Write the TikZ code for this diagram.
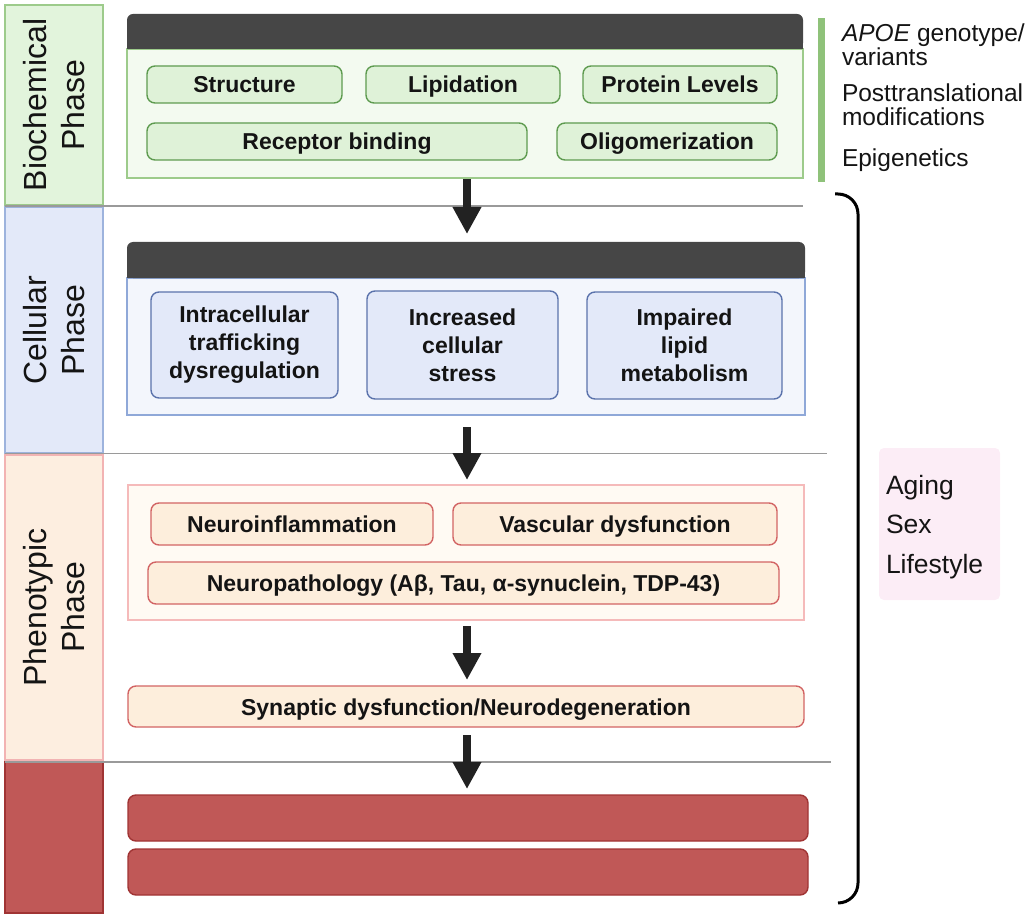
\documentclass[tikz,border=0pt]{standalone}
\usepackage{fontspec}
\setmainfont{Liberation Sans}
\usetikzlibrary{arrows.meta}
\definecolor{gphf}{HTML}{E2F4DC}\definecolor{gphd}{HTML}{9DCB8B}
\definecolor{gcf}{HTML}{F3FAF0}\definecolor{gcd}{HTML}{9DCB8B}
\definecolor{gbf}{HTML}{DFF2D8}\definecolor{gbd}{HTML}{5E9B50}
\definecolor{gline}{HTML}{8FC27A}
\definecolor{bphf}{HTML}{E3E9F9}\definecolor{bphd}{HTML}{9DB3DD}
\definecolor{bcf}{HTML}{F3F6FC}\definecolor{bcd}{HTML}{8FA8D8}
\definecolor{bbf}{HTML}{E3E9F9}\definecolor{bbd}{HTML}{5B73AC}
\definecolor{ophf}{HTML}{FDEEE0}\definecolor{ophd}{HTML}{F2B3B3}
\definecolor{ocf}{HTML}{FFFAF3}\definecolor{ocd}{HTML}{F5BABA}
\definecolor{obf}{HTML}{FDEEDC}\definecolor{obd}{HTML}{D26464}
\definecolor{rf}{HTML}{C05857}\definecolor{rd}{HTML}{A03434}
\definecolor{hdr}{HTML}{464646}
\definecolor{sepc}{HTML}{9A9A9A}
\definecolor{arrc}{HTML}{222222}
\definecolor{agef}{HTML}{FCEDF6}
\definecolor{txt}{HTML}{141414}
\begin{document}
\begin{tikzpicture}[x=1pt,y=-1pt,
  every node/.style={inner sep=0pt, outer sep=0pt, text=txt},
  phasebar/.style={draw=#1, line width=2.5pt, rotate=90, align=center,
     font=\fontsize{32}{38}\selectfont},
  contbox/.style={draw=#1, line width=1.8pt},
  itembox/.style={draw=#1, line width=1.4pt, rounded corners=8pt, align=center,
     font=\bfseries\fontsize{23}{28}\selectfont},
  lineitem/.style={itembox=#1, text height=22pt, text depth=5pt},
  hdrbar/.style={fill=hdr, rounded corners=6pt},
  sepline/.style={draw=sepc, line width=1.6pt},
  flowarrow/.style={draw=arrc, line width=8pt, -{Triangle[width=27pt,length=27pt]}},
  sidetext/.style={anchor=base west, font=\fontsize{24.5}{21}\selectfont},
  agetext/.style={anchor=base west, font=\fontsize{26.5}{40}\selectfont}
]
\useasboundingbox (0,0) rectangle (1031,920);

% phase bars
\node[phasebar=gphd, fill=gphf, minimum width=200pt, minimum height=98pt] (pbio) at (54,105) {Biochemical\\Phase};
\node[phasebar=bphd, fill=bphf, minimum width=246pt, minimum height=98pt] (pcell) at (54,330) {Cellular\\Phase};
\node[phasebar=ophd, fill=ophf, minimum width=305pt, minimum height=98pt] (pphen) at (54,607.5) {Phenotypic\\Phase};
\node[phasebar=rd, fill=rf, minimum width=151pt, minimum height=98pt] (pred) at (54,837.5) {};

% separators
\coordinate (s1e) at (803,206);
\coordinate (s2e) at (827,453.5);
\coordinate (s3e) at (831,762);
\draw[sepline] (pbio.north west |- s1e) -- (s1e);
\draw[sepline] (pcell.north west |- s2e) -- (s2e);
\draw[sepline] (pphen.north west |- s3e) -- (s3e);

% biochemical
\node[contbox=gcd, fill=gcf, minimum width=676pt, minimum height=129pt] (bcont) at (465,113.5) {};
\node[hdrbar, minimum width=676pt, minimum height=35pt] (bhdr) at (465,31.5) {};
\fill[hdr] (127,36) rectangle (803,49);
\node[lineitem=gbd, fill=gbf, minimum width=195pt, minimum height=37pt] (bstr) at (244.5,84.5) {Structure};
\node[lineitem=gbd, fill=gbf, minimum width=194pt, minimum height=37pt] (blip) at (463,84.5) {Lipidation};
\node[lineitem=gbd, fill=gbf, minimum width=194pt, minimum height=37pt] (bprot) at (680,84.5) {Protein Levels};
\node[lineitem=gbd, fill=gbf, minimum width=380pt, minimum height=37pt] (brec) at (337,141.5) {Receptor binding};
\node[lineitem=gbd, fill=gbf, minimum width=220pt, minimum height=37pt] (boli) at (667,141.5) {Oligomerization};

% side texts
\fill[gline] (818,18) rectangle (825,182);
\node[sidetext] (t1) at (842,42) {\textit{APOE} genotype/};
\node[sidetext] (t2) at (842,66) {variants};
\node[sidetext] (t3) at (842,102) {Posttranslational};
\node[sidetext] (t4) at (842,126) {modifications};
\node[sidetext] (t5) at (842,167) {Epigenetics};

% cellular
\node[contbox=bcd, fill=bcf, minimum width=678pt, minimum height=137pt] (ccont) at (466,346.5) {};
\node[hdrbar, minimum width=678pt, minimum height=36pt] (chdr) at (466,260) {};
\fill[hdr] (127,265) rectangle (805,278);
\node[itembox=bbd, fill=bbf, minimum width=187pt, minimum height=106pt] (cint) at (244.5,345) {Intracellular\\trafficking\\dysregulation};
\node[itembox=bbd, fill=bbf, minimum width=191pt, minimum height=108pt] (cinc) at (462.5,345) {Increased\\cellular\\stress};
\node[itembox=bbd, fill=bbf, minimum width=195pt, minimum height=107pt] (cimp) at (684.5,345.5) {Impaired\\lipid\\metabolism};

% phenotypic
\node[contbox=ocd, fill=ocf, minimum width=676pt, minimum height=135pt] (pcont) at (466,552.5) {};
\node[lineitem=obd, fill=obf, minimum width=282pt, minimum height=42pt] (pneu) at (292,524) {Neuroinflammation};
\node[lineitem=obd, fill=obf, minimum width=324pt, minimum height=42pt] (pvas) at (615,524) {Vascular dysfunction};
\node[lineitem=obd, fill=obf, minimum width=631pt, minimum height=42pt] (ppat) at (463.5,583) {Neuropathology (Aβ, Tau, α-synuclein, TDP-43)};
\node[lineitem=obd, fill=obf, minimum width=676pt, minimum height=41pt] (psyn) at (466,706.5) {Synaptic dysfunction/Neurodegeneration};

% red boxes
\node[itembox=rd, fill=rf, minimum width=680pt, minimum height=46pt] (r1) at (468,818) {};
\node[itembox=rd, fill=rf, minimum width=680pt, minimum height=46pt] (r2) at (468,872) {};

% arrows
\coordinate (a1s) at (467,179);
\coordinate (a2s) at (467,427);
\coordinate (a3s) at (467,626);
\coordinate (a4s) at (467,735);
\draw[flowarrow] (a1s) -- (a1s |- 0,234);
\draw[flowarrow] (a2s) -- (a2s |- 0,480);
\draw[flowarrow] (a3s) -- (a3s |- 0,680);
\draw[flowarrow] (a4s) -- (a4s |- 0,789);

% bracket
\draw[line width=3pt, rounded corners=20pt] (835,194) -- (858,194) -- (858,903) -- (838,903);

% modifiers box
\node[fill=agef, rounded corners=5pt, minimum width=121pt, minimum height=152pt] (age) at (939.5,524) {};
\node[agetext] (ag1) at (886,494) {Aging};
\node[agetext] (ag2) at (886,533) {Sex};
\node[agetext] (ag3) at (886,573) {Lifestyle};
\end{tikzpicture}
\end{document}
